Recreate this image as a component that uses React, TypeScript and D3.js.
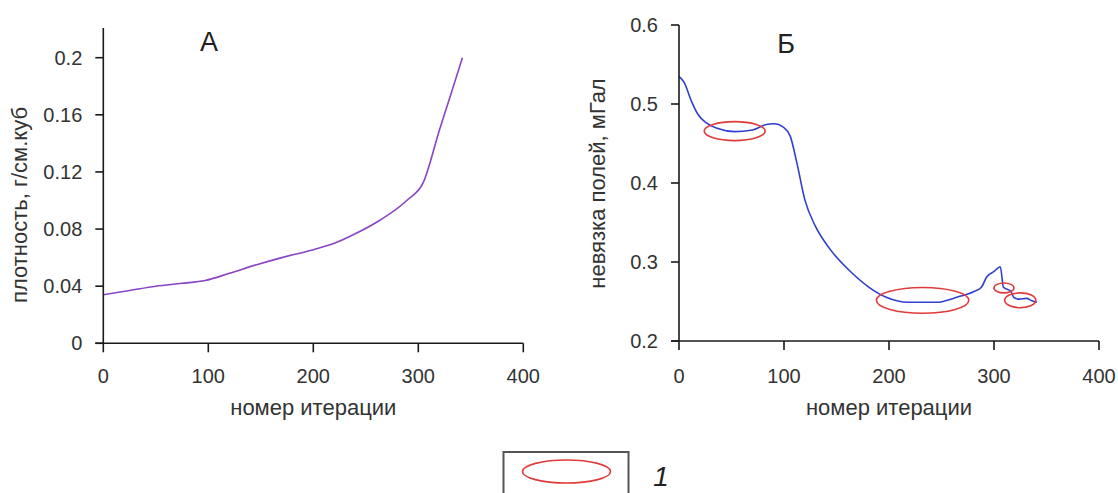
import React from "react";
import * as d3 from "d3";

// Panel A: density vs iteration
const densityIter = [0, 25, 50, 75, 97, 120, 146, 170, 197, 220, 238, 263, 289, 305, 320, 330, 342];
const densityVal = [0.034, 0.037, 0.040, 0.042, 0.044, 0.049, 0.055, 0.060, 0.065, 0.070, 0.076, 0.086, 0.100, 0.113, 0.149, 0.172, 0.200];

// Panel B: field misfit vs iteration
const misfitIter = [0, 5, 12, 18, 26, 37, 53, 70, 83, 91, 99, 106, 112, 120, 130, 144, 164, 181, 198, 218, 245, 266, 280, 288, 293, 300, 306, 309, 316, 319, 324, 331, 336, 341];
const misfitVal = [0.535, 0.527, 0.503, 0.487, 0.476, 0.469, 0.465, 0.467, 0.474, 0.475, 0.471, 0.459, 0.427, 0.378, 0.345, 0.316, 0.287, 0.268, 0.255, 0.249, 0.249, 0.256, 0.262, 0.268, 0.281, 0.288, 0.294, 0.268, 0.263, 0.255, 0.253, 0.254, 0.251, 0.249];

// Highlighted ellipses (data units): centre iteration, centre misfit, half-width, half-height
const ringIter = [53, 232, 309.5, 325];
const ringVal = [0.4657, 0.2515, 0.2672, 0.2515];
const ringHalfW = [29, 44, 9.5, 14.8];
const ringHalfH = [0.012, 0.0163, 0.0063, 0.0094];

const xTicks = [0, 100, 200, 300, 400];
const leftTicks = [0, 0.04, 0.08, 0.12, 0.16, 0.2];
const rightTicks = [0.2, 0.3, 0.4, 0.5, 0.6];

const FONT = "'Liberation Sans', Arial, sans-serif";
const TXT = "#333";

function Panel(props: {
  xs: number[]; ys: number[]; x0: number; x1: number; yBottom: number; yTop: number;
  yDomain: [number, number]; yTicks: number[]; yFmt: (v: number) => string;
  color: string; yTitle: string; yTitleX: number; yTitleY: number; letter: string; letterX: number; letterY: number;
  children?: (x: d3.ScaleLinear<number, number>, y: d3.ScaleLinear<number, number>) => React.ReactNode;
}) {
  const x = d3.scaleLinear().domain([0, 400]).range([props.x0, props.x1]);
  const y = d3.scaleLinear().domain(props.yDomain).range([props.yBottom, props.yTop]);
  const line = d3.line<number>().x((_, i) => x(props.xs[i])).y((d) => y(d)).curve(d3.curveMonotoneX);
  const axisY = props.yBottom;
  return (
    <g>
      <path d={line(props.ys) || ""} fill="none" stroke={props.color} strokeWidth={1.6} />
      {props.children && props.children(x, y)}
      {/* y axis */}
      <line x1={props.x0} x2={props.x0} y1={props.yTop} y2={axisY} stroke="#1a1a1a" strokeWidth={1.6} />
      {props.yTicks.map((t) => (
        <g key={"y" + t}>
          <line x1={props.x0 - 8} x2={props.x0} y1={y(t)} y2={y(t)} stroke="#1a1a1a" strokeWidth={1.6} />
          <text x={props.x0 - 21} y={y(t)} dy="0.35em" textAnchor="end" fontSize={20} fill={TXT} fontFamily={FONT}>
            {props.yFmt(t)}
          </text>
        </g>
      ))}
      {/* x axis */}
      <line x1={props.x0 - 8} x2={props.x1} y1={axisY} y2={axisY} stroke="#1a1a1a" strokeWidth={1.6} />
      {xTicks.map((t) => (
        <g key={"x" + t}>
          <line x1={x(t)} x2={x(t)} y1={axisY} y2={axisY + 9} stroke="#1a1a1a" strokeWidth={1.6} />
          <text x={x(t)} y={383} textAnchor="middle" fontSize={20} fill={TXT} fontFamily={FONT}>
            {t}
          </text>
        </g>
      ))}
      <text x={(props.x0 + props.x1) / 2} y={415} textAnchor="middle" fontSize={22} fill={TXT} fontFamily={FONT}>
        номер итерации
      </text>
      <text
        transform={`translate(${props.yTitleX},${props.yTitleY}) rotate(-90)`}
        textAnchor="middle" fontSize={22} fill={TXT} fontFamily={FONT}
      >
        {props.yTitle}
      </text>
      <text x={props.letterX} y={props.letterY} textAnchor="middle" fontSize={27} fill="#222" fontFamily={FONT}>
        {props.letter}
      </text>
    </g>
  );
}

export default function App() {
  return (
    <svg width={1118} height={493} style={{ position: "absolute", left: 0, top: 0, background: "#fff" }}>
      <rect width={1118} height={493} fill="#fff" />
      <Panel
        xs={densityIter} ys={densityVal} x0={103.3} x1={523.3} yBottom={343.3} yTop={28}
        yDomain={[0, 0.2208]} yTicks={leftTicks} yFmt={(v) => (v === 0 ? "0" : String(+v.toFixed(2)))}
        color="#8a44c4" yTitle="плотность, г/см.куб" yTitleX={27} yTitleY={205}
        letter="А" letterX={209} letterY={51}
      />
      <Panel
        xs={misfitIter} ys={misfitVal} x0={679} x1={1099} yBottom={341} yTop={25}
        yDomain={[0.2, 0.6]} yTicks={rightTicks} yFmt={(v) => v.toFixed(1)}
        color="#2f3fcf" yTitle="невязка полей, мГал" yTitleX={605} yTitleY={183.5}
        letter="Б" letterX={786} letterY={53}
      >
        {(x, y) =>
          ringIter.map((c, i) => (
            <ellipse
              key={i}
              cx={x(c)}
              cy={y(ringVal[i])}
              rx={x(c + ringHalfW[i]) - x(c)}
              ry={y(ringVal[i]) - y(ringVal[i] + ringHalfH[i])}
              fill="none"
              stroke="#e03a3a"
              strokeWidth={1.6}
            />
          ))
        }
      </Panel>
      {/* legend */}
      <rect x={503.5} y={452} width={125} height={50} fill="none" stroke="#555" strokeWidth={2} />
      <ellipse cx={566.5} cy={471.5} rx={44} ry={11.5} fill="none" stroke="#e03a3a" strokeWidth={1.6} />
      <text x={661} y={486} textAnchor="middle" fontSize={28} fontStyle="italic" fill="#222" fontFamily={FONT}>
        1
      </text>
    </svg>
  );
}
